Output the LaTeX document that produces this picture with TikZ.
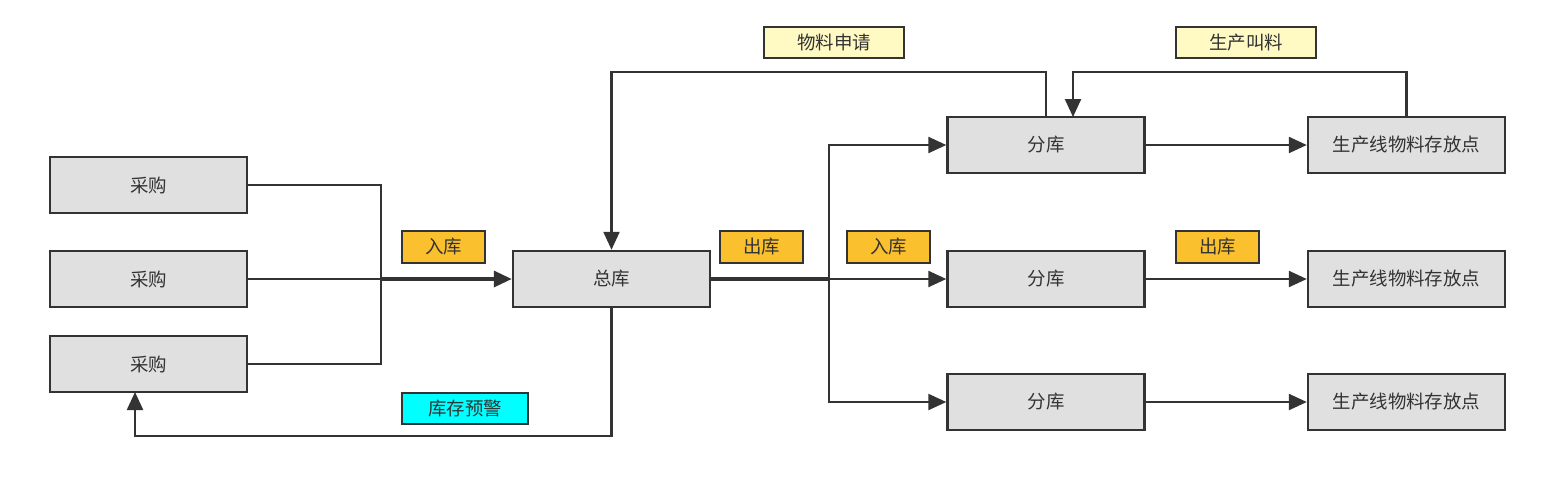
\documentclass[tikz,border=0pt]{standalone}
\usepackage{fontspec}
\setmainfont{Noto Sans CJK SC}
\usepackage{tikz}
\usetikzlibrary{arrows.meta}
\definecolor{boxgray}{HTML}{E0E0E0}
\definecolor{linegray}{HTML}{333333}
\definecolor{tagorange}{HTML}{FBC02D}
\definecolor{tagyellow}{HTML}{FFF9C4}
\definecolor{tagcyan}{HTML}{00FFFF}
\begin{document}
\begin{tikzpicture}[x=0.02cm,y=-0.02cm,
		font=\fontsize{10.5}{12}\selectfont,text=linegray,
		box/.style={shape=rectangle,draw=linegray,fill=boxgray,line width=1.4pt,minimum width=3.94cm,minimum height=1.12cm,inner sep=0pt},
		tag/.style={shape=rectangle,draw=linegray,line width=1.4pt,minimum height=0.63cm,inner sep=0pt},
		flow/.style={draw=linegray,line width=1.3pt},
		tip/.style={flow,-{Triangle[length=0.36cm,width=0.32cm]}}]
		\useasboundingbox (0,0) rectangle (1564,481);
		% purchase boxes
		\node [box] (C1) at (148.5,185) {采购};
		\node [box] (C2) at (148.5,279) {采购};
		\node [box] (C3) at (148.5,364) {采购};
		\node [box] (Z) at (611.5,279) {总库};
		\node [box] (F1) at (1046,145) {分库};
		\node [box] (F2) at (1046,279) {分库};
		\node [box] (F3) at (1046,402) {分库};
		\node [box] (P1) at (1406.5,145) {生产线物料存放点};
		\node [box] (P2) at (1406.5,279) {生产线物料存放点};
		\node [box] (P3) at (1406.5,402) {生产线物料存放点};
		% tags
		\node [tag,fill=tagorange,minimum width=1.66cm] (T1) at (443.5,247) {入库};
		\node [tag,fill=tagorange,minimum width=1.66cm] (T2) at (761.5,247) {出库};
		\node [tag,fill=tagorange,minimum width=1.66cm] (T3) at (888.5,247) {入库};
		\node [tag,fill=tagorange,minimum width=1.66cm] (T4) at (1217.5,247) {出库};
		\node [tag,fill=tagyellow,minimum width=2.8cm] (T5) at (834,42.5) {物料申请};
		\node [tag,fill=tagyellow,minimum width=2.8cm] (T6) at (1246,42.5) {生产叫料};
		\node [tag,fill=tagcyan,minimum width=2.52cm] (T7) at (465,408.5) {库存预警};
		% junctions
		\coordinate (J1) at (381,279);
		\coordinate (J2) at (829,279);
		\coordinate (F1in) at (1073,117);
		\coordinate (C3in) at (135,392);
		\draw [flow] (C1.east) -| (J1);
		\draw [flow] (C3.east) -| (J1);
		\draw [flow] (C2.east) -- (J1);
		\draw [tip,line width=1.9pt] (J1) -- (Z.west);
		\draw [flow,line width=1.9pt] (Z.east) -- (J2);
		\draw [tip] (J2) |- (F1.west);
		\draw [tip] (J2) -- (F2.west);
		\draw [tip] (J2) |- (F3.west);
		\draw [tip] (F1.east) -- (P1.west);
		\draw [tip] (F2.east) -- (P2.west);
		\draw [tip] (F3.east) -- (P3.west);
		\draw [tip] (F1.north) -- ++(0,-44) -| (Z.north);
		\draw [tip] (P1.north) -- ++(0,-44) -| (F1in);
		\draw [tip] (Z.south) -- ++(0,128) -| (C3in);
	\end{tikzpicture}
\end{document}
